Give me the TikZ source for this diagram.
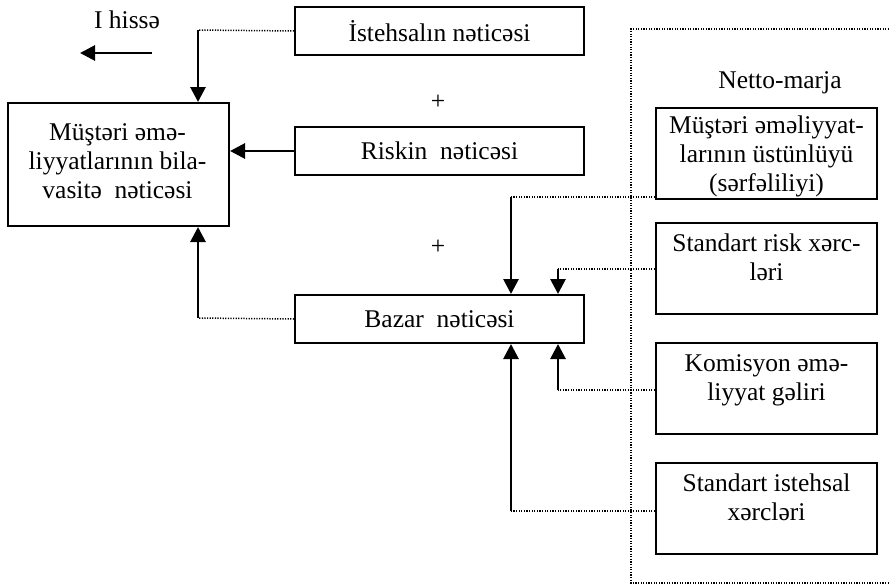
\documentclass[tikz,border=0pt]{standalone}
\usepackage{fontspec}
\setmainfont{Liberation Serif}
\usetikzlibrary{arrows.meta}
\begin{document}
\begin{tikzpicture}[x=1pt,y=-1pt,
  font=\fontsize{25.5}{29}\selectfont,
  box/.style={draw,line width=2pt,inner sep=0pt,anchor=north west},
  lbl/.style={align=center,inner sep=0pt},
  arr/.style={line width=2.8pt,-{Triangle[length=15pt,width=15pt]}},
  dotline/.style={line width=1.5pt,dash pattern=on 1.2pt off 1.4pt}]
\useasboundingbox (0,0) rectangle (891,586);

% left-hand part
\node[lbl] (part) at (127,20) {I hiss\char"0259};
\coordinate (pa) at (152,53);
\coordinate (pb) at (80,53);
\draw[arr] (pa) -- (pb);

\node[box,minimum width=221pt,minimum height=123pt] (left) at (7,102) {};
\node[lbl] (leftt) at (117.5,161) {Müşt\char"0259ri \char"0259m\char"0259-\\liyyatlar\i n\i n bila-\\vasit\char"0259\ \ n\char"0259tic\char"0259si};

\node[box,minimum width=289pt,minimum height=48pt] (ist) at (294,6) {};
\node[lbl] at (ist.center) {İstehsal\i n n\char"0259tic\char"0259si};

\node[lbl] (plus1) at (438,102) {+};

\node[box,minimum width=289pt,minimum height=48pt] (risk) at (294,126) {};
\node[lbl] at (risk.center) {Riskin\ \ n\char"0259tic\char"0259si};

\node[lbl] (plus2) at (438,247) {+};

\node[box,minimum width=289pt,minimum height=48pt] (baz) at (294,294) {};
\node[lbl] at (baz.center) {Bazar\ \ n\char"0259tic\char"0259si};

% net margin frame
\draw[dotline] (889,29) -- (631,29) -- (631,583) -- (889,583);
\node[lbl] (nm) at (780,83) {Netto-marja};

\node[box,minimum width=221pt,minimum height=91pt] (b1) at (655,107) {};
\node[lbl,anchor=north] at ([yshift=-9pt]b1.north) {Müşt\char"0259ri \char"0259m\char"0259liyyat-\\larının üstünlüyü\\(s\char"0259rf\char"0259liliyi)};

\node[box,minimum width=221pt,minimum height=91pt] (b2) at (655,222) {};
\node[lbl,anchor=north] at ([yshift=-12pt]b2.north) {Standart risk x\char"0259rc-\\l\char"0259ri};

\node[box,minimum width=221pt,minimum height=91pt] (b3) at (655,342) {};
\node[lbl,anchor=north] at ([yshift=-12pt]b3.north) {Komisyon \char"0259m\char"0259-\\liyyat g\char"0259liri};

\node[box,minimum width=221pt,minimum height=91pt] (b4) at (655,462) {};
\node[lbl,anchor=north] at ([yshift=-12pt]b4.north) {Standart istehsal\\x\char"0259rcl\char"0259ri};

% connectors into the left box
\coordinate (c1) at (198,30);
\draw[dotline] (ist.west) -- (c1);
\draw[arr] (c1) -- (c1 |- left.north);
\draw[arr] (risk.west) -- (risk.west -| left.east);
\coordinate (c2) at (198,318);
\draw[dotline] (baz.west) -- (c2);
\draw[arr] (c2) -- (c2 |- left.south);

% connectors into the market result box
\coordinate (c3) at (511,197);
\draw[dotline] (c3 -| b1.west) -- (c3);
\draw[arr] (c3) -- (c3 |- baz.north);
\coordinate (c4) at (558,269);
\draw[dotline] (c4 -| b2.west) -- (c4);
\draw[arr] (c4) -- (c4 |- baz.north);
\coordinate (c5) at (558,390);
\draw[dotline] (c5 -| b3.west) -- (c5);
\draw[arr] (c5) -- (c5 |- baz.south);
\coordinate (c6) at (511,511);
\draw[dotline] (c6 -| b4.west) -- (c6);
\draw[arr] (c6) -- (c6 |- baz.south);
\end{tikzpicture}
\end{document}
